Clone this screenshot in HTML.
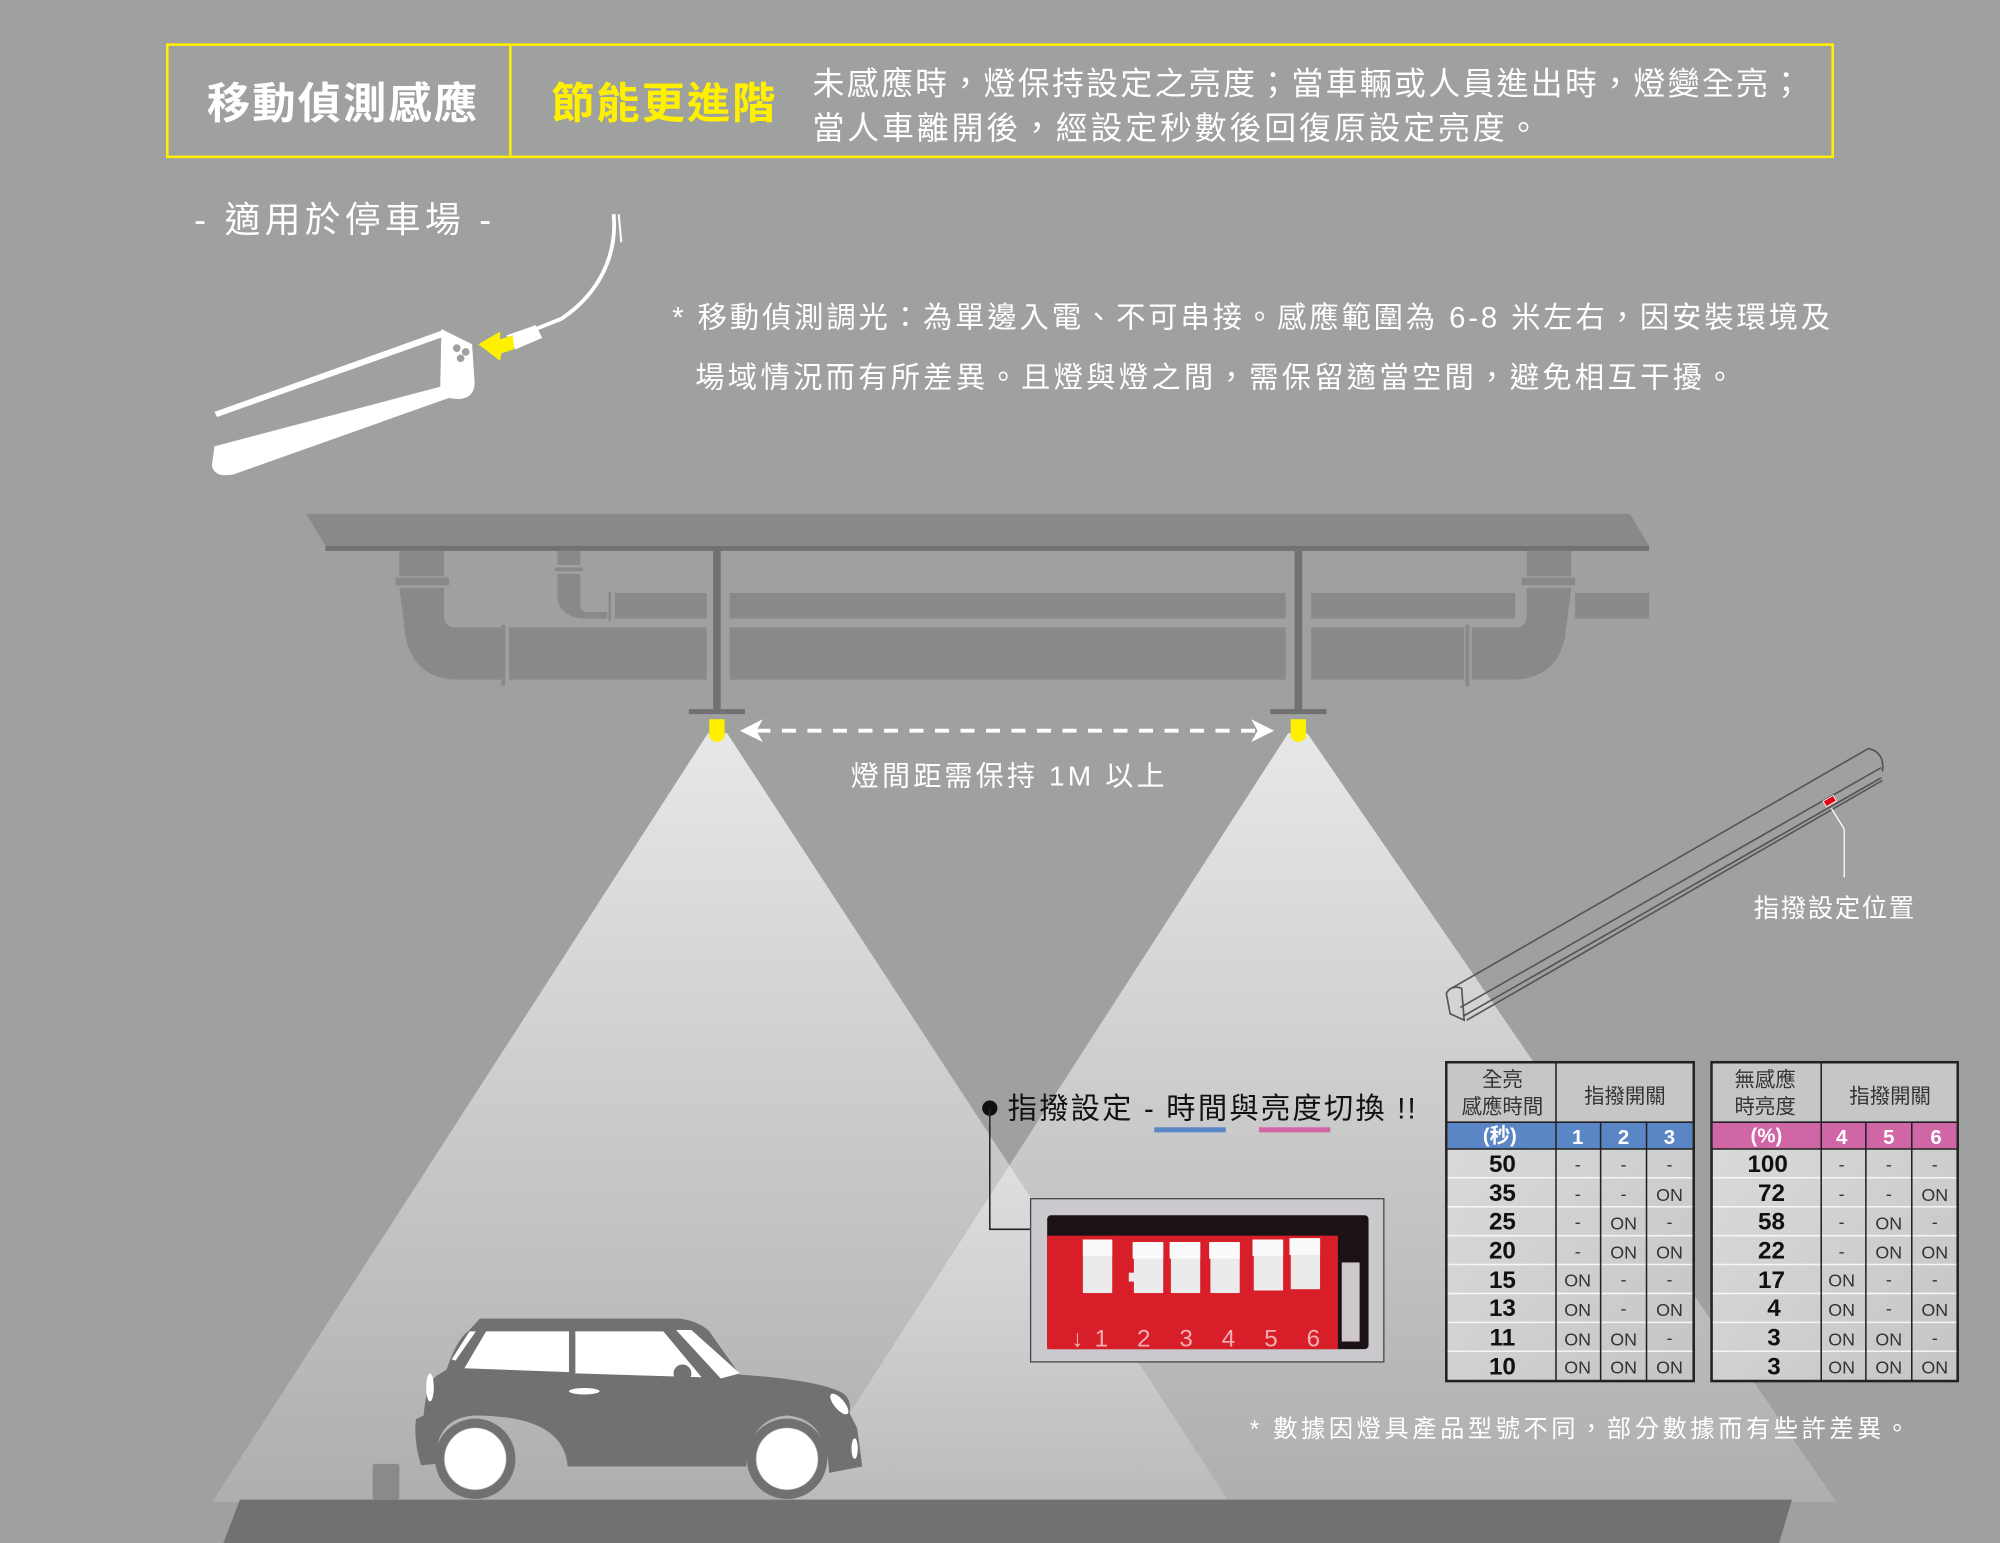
<!DOCTYPE html>
<html><head><meta charset="utf-8"><style>
html,body{margin:0;padding:0;background:#9fa0a0;}
svg{display:block;}
text{font-family:"Liberation Sans","Noto Sans CJK TC",sans-serif;}
</style></head><body>
<svg width="2000" height="1543" viewBox="0 0 1568 1210" xmlns="http://www.w3.org/2000/svg">
<defs>
<linearGradient id="cone" x1="0" y1="0" x2="0" y2="1">
<stop offset="0" stop-color="#ffffff" stop-opacity="0.75"/>
<stop offset="0.5" stop-color="#ffffff" stop-opacity="0.45"/>
<stop offset="1" stop-color="#ffffff" stop-opacity="0.15"/>
</linearGradient>
<linearGradient id="cell" x1="0" y1="0" x2="1" y2="1">
<stop offset="0" stop-color="#dcdddd"/><stop offset="1" stop-color="#c4c5c5"/>
</linearGradient>
</defs>
<rect width="1568" height="1210" fill="#9fa0a0"/>

<!-- light cones -->
<polygon points="555,575 570,575 964,1178 166,1178" fill="url(#cone)"/>
<polygon points="1010,575 1025,575 1440,1178 621,1178" fill="url(#cone)"/>

<!-- header -->
<rect x="131" y="35" width="1306" height="88" fill="none" stroke="#fff000" stroke-width="2"/>
<line x1="400" y1="35" x2="400" y2="123" stroke="#fff000" stroke-width="2"/>
<text x="268" y="93" font-size="34" font-weight="bold" fill="#fff" text-anchor="middle" textLength="212">移動偵測感應</text>
<text x="432" y="93" font-size="34" font-weight="bold" fill="#fff000" textLength="176">節能更進階</text>
<text x="637" y="74" font-size="25" fill="#fff" textLength="776">未感應時，燈保持設定之亮度；當車輛或人員進出時，燈變全亮；</text>
<text x="637" y="109" font-size="25" fill="#fff" textLength="570">當人車離開後，經設定秒數後回復原設定亮度。</text>

<text x="152" y="182" font-size="28" fill="#fff" textLength="233">- 適用於停車場 -</text>

<!-- small lamp -->
<path d="M481,168 C484,200 470,230 440,250 L420,258" fill="none" stroke="#fff" stroke-width="3"/>
<line x1="485" y1="168" x2="487" y2="190" stroke="#fff" stroke-width="1.5"/>
<path d="M397,263 L420,255 L425,265 L404,274 Z" fill="#fff"/>
<polygon points="375,270 392,260 392,266 402,263 403,274 393,277 392,283" fill="#fff000"/>
<polygon points="168,323 347,259 348,264 170,327" fill="#fff"/>
<path d="M346,258 L370,270 L372,300 Q372,312 360,313 L350,312 L345,305 Z" fill="#fff"/>
<circle cx="358" cy="273" r="3" fill="#9fa0a0"/><circle cx="365" cy="276" r="3" fill="#9fa0a0"/><circle cx="361" cy="281" r="3" fill="#9fa0a0"/>
<path d="M168,350 L346,303 L352,312 L183,372 Q168,375 166,365 Z" fill="#fff"/>

<text x="527" y="257" font-size="23" fill="#fff" textLength="908">* 移動偵測調光：為單邊入電、不可串接。感應範圍為 6-8 米左右，因安裝環境及</text>
<text x="545" y="304" font-size="23" fill="#fff" textLength="815">場域情況而有所差異。且燈與燈之間，需保留適當空間，避免相互干擾。</text>

<!-- ceiling -->
<polygon points="240,403 1278,403 1293,428 255,428" fill="#898989"/>
<rect x="255" y="428" width="1038" height="4" fill="#717171"/>
<!-- pipes -->
<g fill="#898989">
<rect x="313" y="432" width="35" height="20"/>
<rect x="310" y="453" width="42" height="6"/>
<path d="M313,461 L348,461 L348,485 Q350,492 356,492 L395,492 L395,533 L360,533 Q325,533 318,500 Z"/>
<rect x="393" y="490" width="3" height="48"/>
<rect x="399" y="492" width="155" height="41"/>
<rect x="572" y="492" width="436" height="41"/>
<rect x="1028" y="492" width="120" height="41"/>
<rect x="1149" y="490" width="3" height="48"/>
<path d="M1232,461 L1197,461 L1197,485 Q1195,492 1189,492 L1154,492 L1154,533 L1185,533 Q1220,533 1227,500 Z"/>
<rect x="1197" y="432" width="35" height="20"/>
<rect x="1193" y="453" width="42" height="6"/>
<rect x="437" y="432" width="18" height="11"/>
<rect x="435" y="445" width="22" height="3"/>
<path d="M437,450 L455,450 L455,475 Q456,480 460,480 L476,480 L476,485 L460,485 Q440,485 437,470 Z"/>
<rect x="477" y="464" width="2" height="23"/>
<rect x="482" y="465" width="72" height="20"/>
<rect x="572" y="465" width="436" height="20"/>
<rect x="1028" y="465" width="160" height="20"/>
<rect x="1235" y="465" width="58" height="20"/>
</g>
<rect x="559" y="432" width="6" height="126" fill="#717171"/>
<rect x="1015" y="432" width="6" height="126" fill="#717171"/>
<rect x="540" y="556" width="44" height="4" fill="#717171"/>
<rect x="996" y="556" width="44" height="4" fill="#717171"/>
<path d="M556,564 L568,564 L568,578 Q562,586 556,578 Z" fill="#fff000"/>
<path d="M1012,564 L1024,564 L1024,578 Q1018,586 1012,578 Z" fill="#fff000"/>
<!-- dashed arrow -->
<line x1="593" y1="573" x2="985" y2="573" stroke="#fff" stroke-width="3" stroke-dasharray="11,9"/>
<polygon points="580,573 598,564 593,573 598,582" fill="#fff"/>
<polygon points="999,573 981,564 986,573 981,582" fill="#fff"/>
<text x="790" y="616" font-size="22" fill="#fff" text-anchor="middle" textLength="246">燈間距需保持 1M 以上</text>

<!-- long lamp right -->
<g fill="none" stroke="#555" stroke-width="1.3">
<line x1="1138" y1="775" x2="1465" y2="587"/>
<line x1="1145" y1="790" x2="1475" y2="602"/>
<line x1="1147" y1="797" x2="1475" y2="610"/>
<line x1="1150" y1="800" x2="1476" y2="612"/>
<path d="M1465,587 Q1478,590 1476,605"/>
<path d="M1134,779 Q1138,772 1146,775 L1148,800 L1137,795 Z"/>
</g>
<rect x="1430" y="626" width="9" height="5" fill="#e60012" stroke="#fff" stroke-width="0.7" transform="rotate(-30 1434 628)"/>
<polyline points="1436,634 1446,650 1446,688" fill="none" stroke="#fff" stroke-width="1"/>
<text x="1375" y="719" font-size="20" fill="#fff" textLength="126">指撥設定位置</text>

<!-- dip label -->
<circle cx="776" cy="869" r="6" fill="#111"/>
<polyline points="776,869 776,964 808,964" fill="none" stroke="#222" stroke-width="1.2"/>
<text x="790" y="877" font-size="23" fill="#111" textLength="320">指撥設定 - 時間與亮度切換 !!</text>
<rect x="905" y="884" width="56" height="4" fill="#5b86c5"/>
<rect x="987" y="884" width="56" height="4" fill="#d066a6"/>

<!-- dip photo -->
<rect x="808" y="940" width="277" height="128" fill="#cbc9ce" stroke="#444" stroke-width="1"/>
<rect x="821" y="953" width="252" height="105" rx="3" fill="#1a1214"/>
<rect x="821" y="969" width="228" height="89" fill="#d81e28"/>
<rect x="1052" y="990" width="14" height="62" fill="#cfc8c8"/>
<g fill="#ecebeb">
<rect x="885" y="998" width="9" height="7"/>
<rect x="849" y="972" width="23" height="42"/><rect x="849" y="972" width="23" height="13" fill="#fafafa"/>
<rect x="889" y="974" width="23" height="40"/><rect x="888" y="974" width="24" height="13" fill="#fafafa"/>
<rect x="918" y="974" width="23" height="40"/><rect x="917" y="974" width="24" height="13" fill="#fafafa"/>
<rect x="949" y="974" width="23" height="40"/><rect x="948" y="974" width="24" height="13" fill="#fafafa"/>
<rect x="983" y="972" width="23" height="40"/><rect x="982" y="972" width="24" height="13" fill="#fafafa"/>
<rect x="1012" y="971" width="23" height="40"/><rect x="1011" y="971" width="24" height="13" fill="#fafafa"/>
</g>
<text x="840" y="1056" font-size="19" fill="#f3b0b4" textLength="195">↓1  2  3  4  5  6</text>

<!-- table left -->
<g font-size="14">
<rect x="1134" y="833" width="194" height="250" fill="url(#cell)" stroke="#222" stroke-width="2"/>
<rect x="1135" y="834" width="192" height="46" fill="#c6c6c6"/>
<rect x="1135" y="880" width="192" height="21" fill="#5b86c5"/>
<g stroke="#fff" stroke-width="1.2" opacity="0.8">
<line x1="1135" y1="923.6" x2="1327" y2="923.6"/><line x1="1135" y1="946.3" x2="1327" y2="946.3"/><line x1="1135" y1="969" x2="1327" y2="969"/><line x1="1135" y1="991.6" x2="1327" y2="991.6"/><line x1="1135" y1="1014.3" x2="1327" y2="1014.3"/><line x1="1135" y1="1037" x2="1327" y2="1037"/><line x1="1135" y1="1059.6" x2="1327" y2="1059.6"/>
</g>
<g stroke="#222" stroke-width="1.2">
<line x1="1220" y1="833" x2="1220" y2="1083"/><line x1="1255" y1="880" x2="1255" y2="1083"/><line x1="1291" y1="880" x2="1291" y2="1083"/>
<line x1="1134" y1="880" x2="1328" y2="880"/><line x1="1134" y1="901" x2="1328" y2="901"/>
</g>
<text x="1178" y="852" font-size="16" fill="#333" text-anchor="middle">全亮</text>
<text x="1178" y="873" font-size="16" fill="#333" text-anchor="middle">感應時間</text>
<text x="1274" y="865" font-size="16" fill="#333" text-anchor="middle">指撥開關</text>
<g fill="#fff" font-weight="bold" font-size="16" text-anchor="middle">
<text x="1176" y="896">(秒)</text><text x="1237" y="897">1</text><text x="1273" y="897">2</text><text x="1309" y="897">3</text>
</g>
<g font-weight="bold" font-size="19" fill="#111" text-anchor="middle">
<text x="1178" y="919">50</text><text x="1178" y="942">35</text><text x="1178" y="964">25</text><text x="1178" y="987">20</text><text x="1178" y="1010">15</text><text x="1178" y="1032">13</text><text x="1178" y="1055">11</text><text x="1178" y="1078">10</text>
</g>
<g fill="#333" text-anchor="middle">
<text x="1237" y="918">-</text><text x="1273" y="918">-</text><text x="1309" y="918">-</text>
<text x="1237" y="941">-</text><text x="1273" y="941">-</text><text x="1309" y="942">ON</text>
<text x="1237" y="963">-</text><text x="1273" y="964">ON</text><text x="1309" y="963">-</text>
<text x="1237" y="986">-</text><text x="1273" y="987">ON</text><text x="1309" y="987">ON</text>
<text x="1237" y="1009">ON</text><text x="1273" y="1008">-</text><text x="1309" y="1008">-</text>
<text x="1237" y="1032">ON</text><text x="1273" y="1031">-</text><text x="1309" y="1032">ON</text>
<text x="1237" y="1055">ON</text><text x="1273" y="1055">ON</text><text x="1309" y="1054">-</text>
<text x="1237" y="1077">ON</text><text x="1273" y="1077">ON</text><text x="1309" y="1077">ON</text>
</g>
</g>

<!-- table right -->
<g font-size="14">
<rect x="1342" y="833" width="193" height="250" fill="url(#cell)" stroke="#222" stroke-width="2"/>
<rect x="1343" y="834" width="191" height="46" fill="#c6c6c6"/>
<rect x="1343" y="880" width="191" height="21" fill="#d066a6"/>
<g stroke="#fff" stroke-width="1.2" opacity="0.8">
<line x1="1343" y1="923.6" x2="1534" y2="923.6"/><line x1="1343" y1="946.3" x2="1534" y2="946.3"/><line x1="1343" y1="969" x2="1534" y2="969"/><line x1="1343" y1="991.6" x2="1534" y2="991.6"/><line x1="1343" y1="1014.3" x2="1534" y2="1014.3"/><line x1="1343" y1="1037" x2="1534" y2="1037"/><line x1="1343" y1="1059.6" x2="1534" y2="1059.6"/>
</g>
<g stroke="#222" stroke-width="1.2">
<line x1="1428" y1="833" x2="1428" y2="1083"/><line x1="1463" y1="880" x2="1463" y2="1083"/><line x1="1499" y1="880" x2="1499" y2="1083"/>
<line x1="1342" y1="880" x2="1535" y2="880"/><line x1="1342" y1="901" x2="1535" y2="901"/>
</g>
<text x="1384" y="852" font-size="16" fill="#333" text-anchor="middle">無感應</text>
<text x="1384" y="873" font-size="16" fill="#333" text-anchor="middle">時亮度</text>
<text x="1482" y="865" font-size="16" fill="#333" text-anchor="middle">指撥開關</text>
<g fill="#fff" font-weight="bold" font-size="16" text-anchor="middle">
<text x="1385" y="896">(%)</text><text x="1444" y="897">4</text><text x="1481" y="897">5</text><text x="1518" y="897">6</text>
</g>
<g font-weight="bold" font-size="19" fill="#111" text-anchor="middle">
<text x="1386" y="919">100</text><text x="1389" y="942">72</text><text x="1389" y="964">58</text><text x="1389" y="987">22</text><text x="1389" y="1010">17</text><text x="1391" y="1032">4</text><text x="1391" y="1055">3</text><text x="1391" y="1078">3</text>
</g>
<g fill="#333" text-anchor="middle">
<text x="1444" y="918">-</text><text x="1481" y="918">-</text><text x="1517" y="918">-</text>
<text x="1444" y="941">-</text><text x="1481" y="941">-</text><text x="1517" y="942">ON</text>
<text x="1444" y="963">-</text><text x="1481" y="964">ON</text><text x="1517" y="963">-</text>
<text x="1444" y="986">-</text><text x="1481" y="987">ON</text><text x="1517" y="987">ON</text>
<text x="1444" y="1009">ON</text><text x="1481" y="1008">-</text><text x="1517" y="1008">-</text>
<text x="1444" y="1032">ON</text><text x="1481" y="1031">-</text><text x="1517" y="1032">ON</text>
<text x="1444" y="1055">ON</text><text x="1481" y="1055">ON</text><text x="1517" y="1054">-</text>
<text x="1444" y="1077">ON</text><text x="1481" y="1077">ON</text><text x="1517" y="1077">ON</text>
</g>
</g>

<text x="980" y="1127" font-size="19" fill="#fff" textLength="517">* 數據因燈具產品型號不同，部分數據而有些許差異。</text>

<!-- ground -->
<polygon points="188,1176 1405,1176 1395,1210 175,1210" fill="#717171"/>
<rect x="292" y="1148" width="21" height="28" rx="2" fill="#8a8a8a"/>

<!-- car -->
<path d="M376,1034 L533,1034 Q548,1036 556,1044 L580,1078 Q640,1082 660,1092 Q668,1097 666,1108 L672,1120 L676,1150 L650,1155 Q648,1112 617,1110 Q588,1112 585,1150 L445,1150 Q442,1110 372,1110 Q340,1112 342,1148 L330,1149 Q324,1130 326,1113 L332,1110 Q334,1085 342,1079 L350,1074 Q358,1050 368,1043 Z" fill="#717171"/>
<g fill="#fff">
<polygon points="381,1044 446,1044 446,1076 364,1073"/>
<polygon points="451,1044 520,1044 550,1080 451,1077"/>
<polygon points="530,1043 542,1043 580,1077 565,1081"/>
<polygon points="368,1044 373,1044 357,1067 354,1066"/>
<ellipse cx="337" cy="1088" rx="3" ry="11"/>
<ellipse cx="658" cy="1101" rx="4" ry="10" transform="rotate(-40 658 1101)"/>
<ellipse cx="670" cy="1136" rx="2.5" ry="8"/>
<ellipse cx="458" cy="1091" rx="12" ry="2.5"/>
<circle cx="372.5" cy="1144" r="24"/>
<circle cx="617" cy="1144" r="24"/>
</g>
<circle cx="535" cy="1077" r="7" fill="#717171"/>
<circle cx="372.5" cy="1144" r="24" fill="none" stroke="#717171" stroke-width="8" opacity="0"/>
<circle cx="372.5" cy="1144" r="28" fill="none" stroke="#717171" stroke-width="7"/>
<circle cx="617" cy="1144" r="28" fill="none" stroke="#717171" stroke-width="7"/>
</svg>
</body></html>
